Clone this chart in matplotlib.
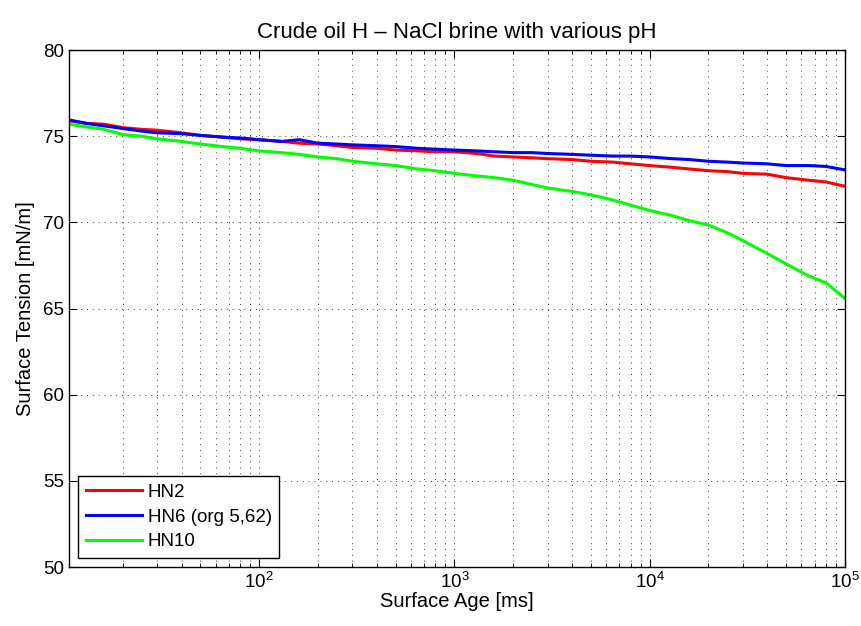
import matplotlib
matplotlib.use("Agg")
import matplotlib.pyplot as plt
from matplotlib.ticker import LogLocator, NullFormatter, MultipleLocator

plt.rcParams['font.family'] = ['Liberation Sans', 'DejaVu Sans']
plt.rcParams['mathtext.default'] = 'regular'

# surface age [ms]
age = [10.6, 13, 16, 20, 25, 30, 40, 50, 65, 80,
       100, 130, 160, 200, 250, 300, 400, 500, 650, 800,
       1000, 1300, 1600, 2000, 2500, 3000, 4000, 5000, 6500, 8000,
       10000, 13000, 16000, 20000, 25000, 30000, 40000, 50000, 65000, 80000,
       100000]

# surface tension [mN/m]
hn2 = [75.9, 75.75, 75.7, 75.5, 75.4, 75.35, 75.2, 75.05, 74.95, 74.85,
       74.8, 74.7, 74.6, 74.55, 74.45, 74.35, 74.3, 74.2, 74.15, 74.1,
       74.1, 74.0, 73.85, 73.8, 73.75, 73.7, 73.65, 73.55, 73.5, 73.4,
       73.3, 73.2, 73.1, 73.0, 72.95, 72.85, 72.8, 72.6, 72.45, 72.35,
       72.1]
hn6 = [75.95, 75.75, 75.6, 75.45, 75.3, 75.2, 75.15, 75.05, 74.95, 74.9,
       74.8, 74.7, 74.8, 74.6, 74.55, 74.5, 74.45, 74.4, 74.3, 74.25,
       74.2, 74.15, 74.1, 74.05, 74.05, 74.0, 73.95, 73.9, 73.85, 73.85,
       73.8, 73.7, 73.65, 73.55, 73.5, 73.45, 73.4, 73.3, 73.3, 73.25,
       73.05]
hn10 = [75.7, 75.55, 75.4, 75.1, 75.0, 74.85, 74.7, 74.55, 74.4, 74.3,
        74.15, 74.05, 73.95, 73.8, 73.7, 73.55, 73.4, 73.3, 73.1, 73.0,
        72.85, 72.7, 72.6, 72.45, 72.2, 72.0, 71.8, 71.6, 71.3, 71.0,
        70.7, 70.4, 70.1, 69.85, 69.4, 68.95, 68.2, 67.6, 66.9, 66.5,
        65.6]

labels = ['HN2', 'HN6 (org 5,62)', 'HN10']

fig = plt.figure(figsize=(8.62, 6.26), dpi=100)
ax = fig.add_axes([0.080, 0.094, 0.900, 0.826])

ax.plot(age, hn2, color=(1, 0, 0), lw=2.2, label=labels[0])
ax.plot(age, hn6, color=(0, 0, 1), lw=2.2, label=labels[1])
ax.plot(age, hn10, color=(0, 1, 0), lw=2.2, label=labels[2])

ax.set_xscale('log')
ax.set_xlim(10.6, 1e5)
ax.set_ylim(50, 80)
ax.yaxis.set_major_locator(MultipleLocator(5))
ax.xaxis.set_major_locator(LogLocator(base=10, numticks=10))
ax.xaxis.set_minor_locator(LogLocator(base=10, subs=range(2, 10), numticks=20))
ax.xaxis.set_minor_formatter(NullFormatter())

ax.grid(True, which='major', axis='both', linestyle=(0, (1, 5)), color='#444444', lw=0.7)
ax.grid(True, which='minor', axis='x', linestyle=(0, (1, 5)), color='#444444', lw=0.7)

ax.tick_params(which='both', direction='in', top=True, right=True, labelsize=13.5)
ax.tick_params(which='major', length=6)
ax.tick_params(which='minor', length=3)
for s in ax.spines.values():
    s.set_linewidth(1.0)

ax.set_xlabel('Surface Age [ms]', fontsize=14.5, labelpad=0)
ax.set_ylabel('Surface Tension [mN/m]', fontsize=14.5, labelpad=6)
ax.set_title('Crude oil H \u2013 NaCl brine with various pH', fontsize=16, pad=9)

leg = ax.legend(loc='lower left', fontsize=13.5, fancybox=False, framealpha=1,
                edgecolor='black', borderaxespad=0.5, handlelength=3.0,
                labelspacing=0.4, borderpad=0.4, handletextpad=0.3)
leg.get_frame().set_linewidth(1.0)

fig.savefig('out.png', dpi=100)
